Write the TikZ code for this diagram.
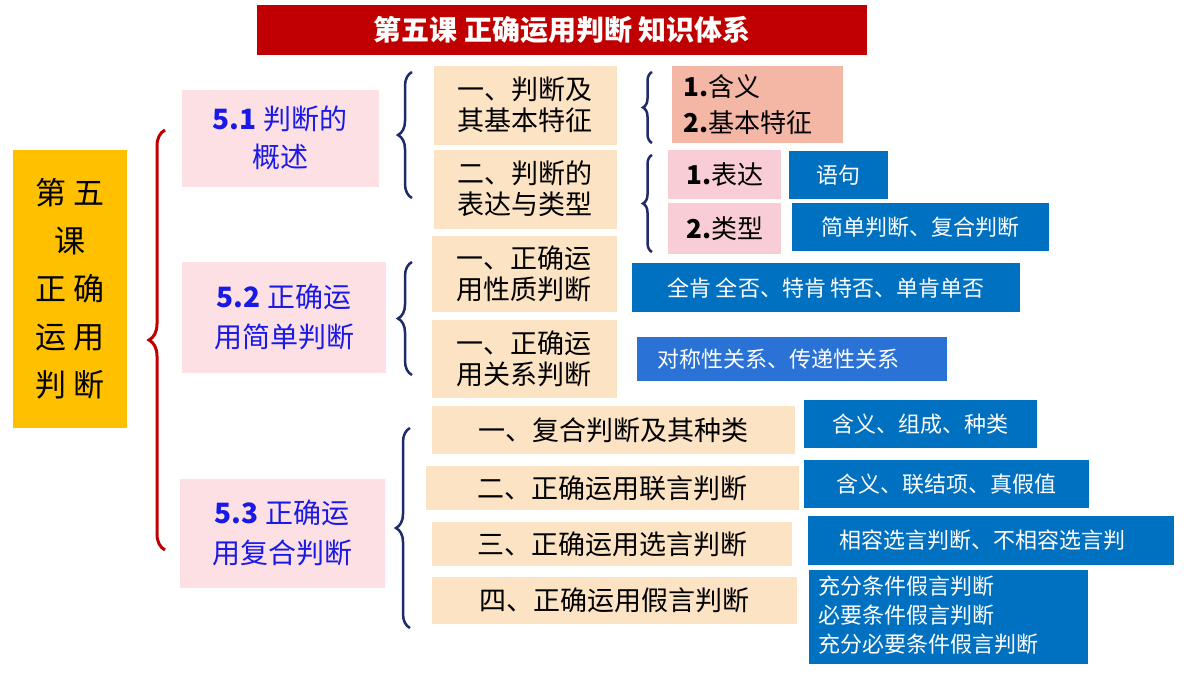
\documentclass[tikz,border=0pt]{standalone}
\usepackage{fontspec}
\setmainfont{Noto Sans CJK SC}
\usetikzlibrary{decorations.pathreplacing}
\definecolor{tred}{HTML}{C00000}
\definecolor{gold}{HTML}{FFC000}
\definecolor{pinkbg}{HTML}{FCE0E4}
\definecolor{peach}{HTML}{FBE3C4}
\definecolor{salmon}{HTML}{F4B7A6}
\definecolor{pink2}{HTML}{F8CDD6}
\definecolor{bluebg}{HTML}{0070C0}
\definecolor{blue2}{HTML}{2A72D6}
\definecolor{navy}{HTML}{1F2A6B}
\definecolor{ttblue}{HTML}{1A1AE6}
\begin{document}
\begin{tikzpicture}[x=1pt,y=-1pt,
 bx/.style={inner sep=0pt,anchor=north west},
 peachtxt/.style={font=\fontsize{27}{31}\selectfont,align=center},
 bluetxt/.style={font=\fontsize{22}{26}\selectfont,text=white},
 br/.style={decorate,decoration={brace,amplitude=14pt},line width=2.5pt,navy},
 sbr/.style={decorate,decoration={brace,amplitude=9pt},line width=2.5pt,navy}]
\useasboundingbox (0,0) rectangle (1200,675);
\fill[white] (0,0) rectangle (1200,675);
% title
\fill[tred] (257,5) rectangle (867,55);
\node[text=white,font=\fontsize{28}{32}\selectfont\bfseries] (title) at (562,30) {第五课 正确运用判断 知识体系};
% left box
\fill[gold] (13,150) rectangle (127,428);
\node[font=\fontsize{31}{48}\selectfont,align=center] (lesson) at (70,289) {第 五\\课\\正 确\\运 用\\判 断};
% red brace
\draw[decorate,decoration={brace,amplitude=16pt},line width=3pt,tred] (165,550) -- (165,130);
% section boxes
\fill[pinkbg] (182,90) rectangle (379,187);
\node[font=\fontsize{28}{38}\selectfont,text=ttblue,align=center] (s1) at (280,138) {\textbf{5.1} 判断的\\概述};
\fill[pinkbg] (182,262) rectangle (386,373);
\node[font=\fontsize{28}{40}\selectfont,text=ttblue,align=center] (s2) at (284,317) {\textbf{5.2} 正确运\\用简单判断};
\fill[pinkbg] (180,479) rectangle (385,588);
\node[font=\fontsize{28}{40}\selectfont,text=ttblue,align=center] (s3) at (282,533) {\textbf{5.3} 正确运\\用复合判断};
% navy braces
\draw[br] (412,198) -- (412,72);
\draw[br] (412,375) -- (412,262);
\draw[br] (410,628) -- (410,428);
% peach boxes
\fill[peach] (434,66) rectangle (617,145);
\node[peachtxt] (a) at (525,105) {一、判断及\\其基本特征};
\fill[peach] (434,150) rectangle (617,229);
\node[peachtxt] (b) at (525,189) {二、判断的\\表达与类型};
\fill[peach] (432,236) rectangle (617,312);
\node[peachtxt] (c) at (524,274) {一、正确运\\用性质判断};
\fill[peach] (432,320) rectangle (617,398);
\node[peachtxt] (d) at (524,359) {一、正确运\\用关系判断};
\fill[peach] (432,406) rectangle (795,454);
\node[peachtxt] (e) at (613,430) {一、复合判断及其种类};
\fill[peach] (426,466) rectangle (799,510);
\node[peachtxt] (f) at (612,488) {二、正确运用联言判断};
\fill[peach] (432,522) rectangle (792,566);
\node[peachtxt] (g) at (612,544) {三、正确运用选言判断};
\fill[peach] (432,577) rectangle (797,624);
\node[peachtxt] (h) at (614,600) {四、正确运用假言判断};
% small braces
\draw[sbr] (652,143) -- (652,72);
\draw[sbr] (652,252) -- (652,155);
% salmon/pink
\fill[salmon] (672,66) rectangle (843,143);
\node[font=\fontsize{26}{36}\selectfont,align=left,anchor=west] (hy) at (680,105) {\textbf{1.}含义\\\textbf{2.}基本特征};
\fill[pink2] (668,150) rectangle (781,199);
\node[font=\fontsize{26}{30}\selectfont] (bd) at (725,175) {\textbf{1.}表达};
\fill[pink2] (668,203) rectangle (781,254);
\node[font=\fontsize{26}{30}\selectfont] (lx) at (725,229) {\textbf{2.}类型};
% blue boxes
\fill[bluebg] (789,151) rectangle (888,199);
\node[bluetxt] (q1) at (838,175) {语句};
\fill[bluebg] (792,203) rectangle (1049,251);
\node[bluetxt] (q2) at (920,227) {简单判断、复合判断};
\fill[bluebg] (632,263) rectangle (1020,312);
\node[bluetxt] (q3) at (826,288) {全肯 全否、特肯 特否、单肯单否};
\fill[blue2] (637,337) rectangle (947,381);
\node[bluetxt] (q4) at (778,359) {对称性关系、传递性关系};
\fill[bluebg] (804,400) rectangle (1037,448);
\node[bluetxt] (q5) at (920,424) {含义、组成、种类};
\fill[bluebg] (804,460) rectangle (1089,508);
\node[bluetxt] (q6) at (946,484) {含义、联结项、真假值};
\fill[bluebg] (808,516) rectangle (1174,565);
\node[bluetxt] (q7) at (982,540) {相容选言判断、不相容选言判};
\fill[bluebg] (809,570) rectangle (1088,664);
\node[bluetxt,font=\fontsize{22}{29}\selectfont,align=left,anchor=north west] (q8) at (815,572) {充分条件假言判断\\必要条件假言判断\\充分必要条件假言判断};
\end{tikzpicture}
\end{document}
